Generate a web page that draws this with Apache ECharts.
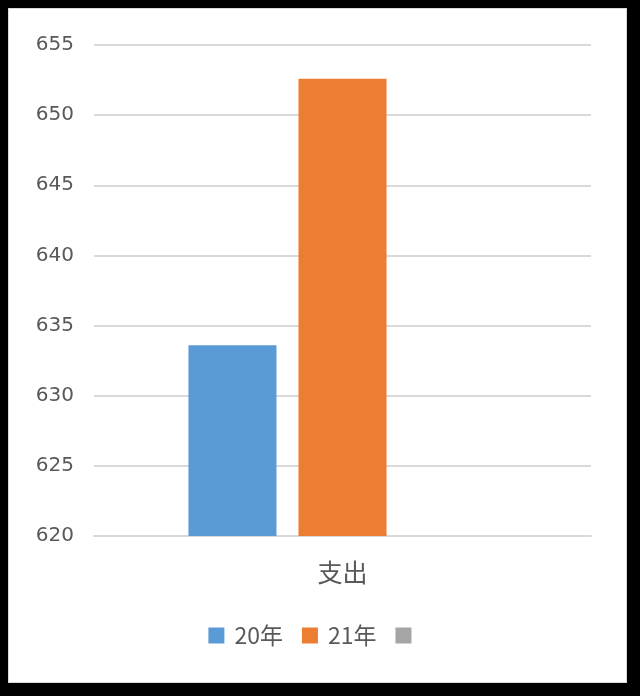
<!DOCTYPE html>
<html><head><meta charset="utf-8">
<script src="https://cdn.jsdelivr.net/npm/echarts@6/dist/echarts.min.js"></script>
<style>
html,body{margin:0;padding:0;background:#000;}
#wrap{position:absolute;left:0;top:0;width:640px;height:696px;background:#000;}
#chart{position:absolute;left:8px;top:8px;width:619px;height:675px;background:#fff;box-sizing:border-box;border:1px solid #d9d9d9;}
</style></head>
<body>
<div id="wrap"><div id="chart"></div></div>
<script>
const categories = ['支出'];
const seriesNames = ['20年', '21年', ' '];
const values20 = [633.6];
const values21 = [652.6];
const values3 = [null];
const yTicks = { min: 620, max: 655, interval: 5 };

const chart = echarts.init(document.getElementById('chart'), null, { renderer: 'canvas' });
const colors = ['#5b9bd5', '#ed7d31', '#a5a5a5'];
const font = '"Noto Sans CJK SC", "DejaVu Sans", sans-serif';
chart.setOption({
  animation: false,
  color: colors,
  grid: { left: 85, right: 35, top: 36, bottom: 146 },
  legend: {
    bottom: 30,
    left: 'center',
    itemWidth: 16,
    itemHeight: 16,
    itemGap: 19,
    icon: 'rect',
    textStyle: { color: '#595959', fontSize: 23, fontFamily: font, padding: [0, 0, 0, 5] },
    data: seriesNames
  },
  xAxis: {
    type: 'category',
    data: categories,
    axisLine: { show: true, lineStyle: { color: '#d9d9d9', width: 2 } },
    axisTick: { show: false },
    axisLabel: { color: '#595959', fontSize: 25, fontFamily: font, margin: 24 }
  },
  yAxis: {
    type: 'value',
    min: yTicks.min, max: yTicks.max, interval: yTicks.interval,
    axisLine: { show: false },
    axisTick: { show: false },
    splitLine: { lineStyle: { color: '#d9d9d9', width: 2 } },
    axisLabel: { color: '#595959', fontSize: 20, fontFamily: 'DejaVu Sans', margin: 20 }
  },
  series: [
    { name: seriesNames[0], type: 'bar', data: values20, barGap: '25%', barCategoryGap: '38%' },
    { name: seriesNames[1], type: 'bar', data: values21, barGap: '25%', barCategoryGap: '38%' },
    { name: seriesNames[2], type: 'bar', data: values3, barGap: '25%', barCategoryGap: '38%' }
  ]
});
</script>
</body></html>
